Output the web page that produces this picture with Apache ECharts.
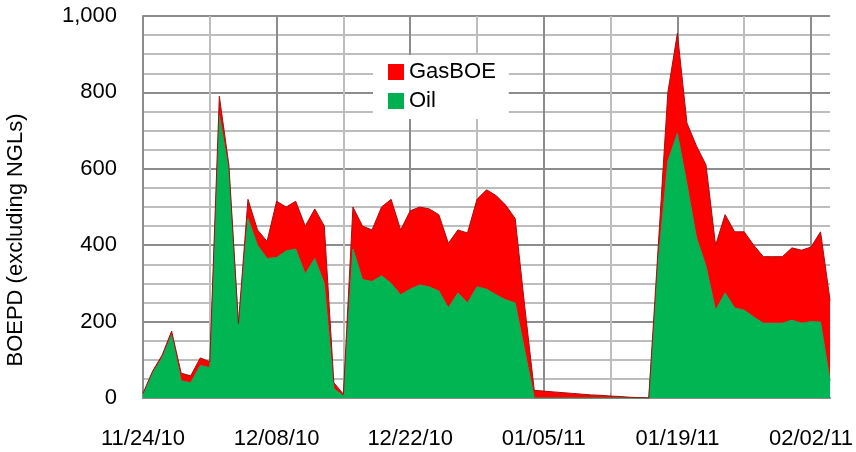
<!DOCTYPE html>
<html>
<head>
<meta charset="utf-8">
<script src="https://cdn.jsdelivr.net/npm/echarts@6/dist/echarts.min.js"></script>
<style>
  html, body { margin: 0; padding: 0; background: #fff; }
  #chart { width: 856px; height: 452px; }
</style>
</head>
<body>
<div id="chart"></div>
<script>
// daily dates, 11/24/10 - 02/04/11
const dates = [
  '11/24/10', '11/25/10', '11/26/10', '11/27/10', '11/28/10', '11/29/10', '11/30/10',
  '12/01/10', '12/02/10', '12/03/10', '12/04/10', '12/05/10', '12/06/10', '12/07/10',
  '12/08/10', '12/09/10', '12/10/10', '12/11/10', '12/12/10', '12/13/10', '12/14/10',
  '12/15/10', '12/16/10', '12/17/10', '12/18/10', '12/19/10', '12/20/10', '12/21/10',
  '12/22/10', '12/23/10', '12/24/10', '12/25/10', '12/26/10', '12/27/10', '12/28/10',
  '12/29/10', '12/30/10', '12/31/10', '01/01/11', '01/02/11', '01/03/11', '01/04/11',
  '01/05/11', '01/06/11', '01/07/11', '01/08/11', '01/09/11', '01/10/11', '01/11/11',
  '01/12/11', '01/13/11', '01/14/11', '01/15/11', '01/16/11', '01/17/11', '01/18/11',
  '01/19/11', '01/20/11', '01/21/11', '01/22/11', '01/23/11', '01/24/11', '01/25/11',
  '01/26/11', '01/27/11', '01/28/11', '01/29/11', '01/30/11', '01/31/11', '02/01/11',
  '02/02/11', '02/03/11', '02/04/11'
]

const oil = [
  10, 65, 105, 165, 45, 40, 85,
  80, 740, 595, 190, 470, 400, 365,
  368, 385, 390, 325, 365, 300, 25,
  5, 390, 310, 305, 320, 300, 270,
  285, 296, 291, 280, 236, 275, 249,
  291, 285, 270, 257, 249, 125, 0,
  0, 0, 0, 0, 0, 0, 0,
  0, 0, 0, 0, 0, 360, 620,
  693, 560, 420, 345, 230, 275, 236,
  230, 212, 196, 196, 196, 204, 196,
  200, 199, 45
]

const gasBOE = [
  2, 5, 7, 10, 20, 18, 20,
  15, 50, 15, 5, 50, 40, 45,
  147, 115, 125, 125, 130, 150, 15,
  5, 110, 140, 135, 180, 220, 170,
  205, 204, 204, 200, 169, 165, 183,
  229, 260, 260, 248, 221, 115, 20,
  18, 16, 14, 12, 10, 8, 7,
  5, 4, 2, 1, 0, 40, 180,
  262, 160, 240, 265, 170, 205, 199,
  205, 188, 174, 174, 174, 189, 191,
  195, 236, 210
]

const yTicks = [0, 200, 400, 600, 800, 1000]

const font = "'Liberation Sans', Arial, sans-serif"

const chart = echarts.init(document.getElementById('chart'))

const option = {
  animation: false,
  grid: { left: 143, top: 16, right: 22, bottom: 54 },
  legend: {
    orient: 'vertical',
    left: 373,
    top: 55,
    padding: [6, 13, 7, 15],
    backgroundColor: '#fff',
    itemWidth: 16,
    itemHeight: 16,
    itemGap: 7,
    icon: 'rect',
    data: ['GasBOE', 'Oil'],
    textStyle: { fontFamily: font, fontSize: 22, lineHeight: 18, color: '#000' }
  },
  xAxis: [
    {
      type: 'category',
      data: dates,
      boundaryGap: false,
      axisLine: { lineStyle: { color: '#8c8c8c', width: 2 } },
      axisTick: { inside: true, length: 5, interval: 6, lineStyle: { color: '#8c8c8c' } },
      axisLabel: { interval: 13, margin: 30, fontFamily: font, fontSize: 22, color: '#000' },
      splitLine: { show: true, interval: 6, lineStyle: { color: '#bdbdbd', width: 2 } }
    },
    {
      // darker lines on the labelled dates
      type: 'category',
      data: dates,
      boundaryGap: false,
      position: 'bottom',
      axisLine: { show: false },
      axisTick: { show: false },
      axisLabel: { show: false },
      splitLine: { show: true, interval: 13, lineStyle: { color: '#8c8c8c', width: 2 } }
    }
  ],
  yAxis: {
    type: 'value',
    min: 0,
    max: 1000,
    interval: 200,
    axisLine: { show: true, lineStyle: { color: '#8c8c8c', width: 2 } },
    axisTick: { show: false },
    axisLabel: {
      margin: 26,
      fontFamily: font,
      fontSize: 22,
      color: '#000',
      formatter: v => yTicks.includes(v) ? v.toLocaleString('en-US') : ''
    },
    splitLine: { lineStyle: { color: '#8c8c8c', width: 2 } },
    minorTick: { show: false, splitNumber: 4 },
    minorSplitLine: { show: true, lineStyle: { color: '#bdbdbd', width: 2 } }
  },
  graphic: [
    {
      type: 'text',
      x: 16,
      y: 240,
      rotation: Math.PI / 2,
      style: {
        text: 'BOEPD (excluding NGLs)',
        font: '22px ' + font,
        fill: '#000',
        align: 'center',
        verticalAlign: 'middle'
      }
    }
  ],
  series: [
    {
      name: 'Oil',
      type: 'line',
      stack: 'total',
      data: oil,
      symbol: 'none',
      lineStyle: { width: 1, color: '#1f9e55' },
      itemStyle: { color: '#00b050' },
      areaStyle: { color: '#00b552', opacity: 1 }
    },
    {
      name: 'GasBOE',
      type: 'line',
      stack: 'total',
      data: gasBOE,
      symbol: 'none',
      lineStyle: { width: 1, color: '#a01010' },
      itemStyle: { color: '#ff0000' },
      areaStyle: { color: '#ff0000', opacity: 1 }
    }
  ]
}

chart.setOption(option)
window.addEventListener('resize', () => {
  chart.resize()
})
</script>
</body>
</html>
